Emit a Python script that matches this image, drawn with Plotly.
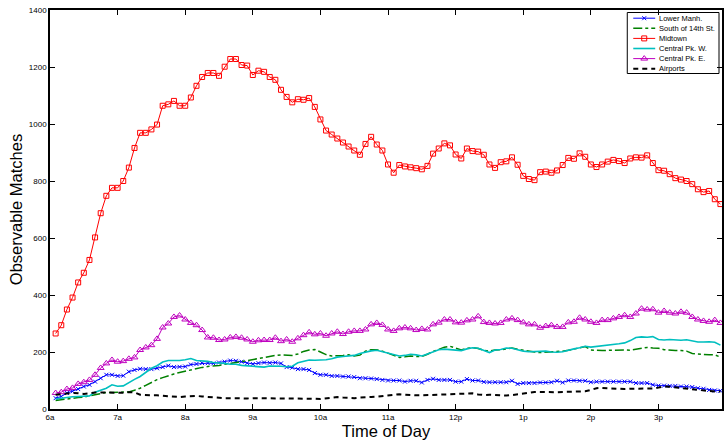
import plotly.graph_objects as go

# time stamps: minutes after midnight, 5-minute bins from 6:05
minutes = list(range(365, 960, 5))
hours = [m / 60 for m in minutes]

lower_manh = [38, 44, 56, 62, 70, 79, 85, 96, 108, 120, 120, 116, 117, 131, 137, 141, 140, 140, 143, 147,
              152, 147, 148, 149, 156, 158, 161, 161, 160, 163, 166, 170, 169, 166, 161, 158, 161, 163, 162, 163,
              160, 147, 145, 140, 140, 137, 126, 120, 120, 116, 116, 114, 114, 112, 108, 108, 107, 105, 102, 100,
              100, 100, 96, 99, 99, 93, 102, 106, 102, 102, 102, 96, 96, 105, 100, 100, 95, 94, 94, 94,
              94, 99, 88, 91, 91, 91, 93, 93, 94, 99, 93, 100, 100, 99, 99, 94, 96, 96, 96, 96,
              96, 96, 96, 91, 91, 91, 85, 82, 82, 81, 81, 79, 79, 77, 73, 71, 67, 65, 64]
south_14th = [30, 33, 35, 37, 40, 42, 46, 52, 55, 58, 58, 58, 58, 60, 66, 73, 83, 93, 103, 110,
              117, 123, 128, 133, 138, 143, 146, 149, 150, 153, 157, 159, 163, 166, 170, 174, 177, 180, 184, 188,
              190, 190, 188, 193, 202, 207, 209, 200, 191, 186, 186, 188, 190, 186, 189, 203, 208, 208, 203, 196,
              188, 181, 183, 186, 184, 184, 192, 202, 209, 217, 220, 214, 207, 213, 215, 212, 206, 203, 207, 208,
              211, 214, 210, 206, 202, 200, 198, 199, 201, 201, 203, 206, 211, 215, 219, 207, 205, 205, 206, 207,
              207, 207, 206, 209, 213, 216, 214, 213, 208, 206, 205, 205, 203, 195, 193, 191, 190, 190, 182]
midtown = [265, 294, 349, 391, 444, 478, 523, 602, 687, 748, 776, 776, 800, 847, 916, 969, 969, 981, 998, 1064,
           1069, 1081, 1064, 1064, 1093, 1134, 1165, 1179, 1179, 1169, 1201, 1228, 1228, 1207, 1205, 1172, 1187, 1183, 1165, 1155,
           1120, 1095, 1076, 1087, 1085, 1091, 1060, 1016, 977, 963, 949, 935, 921, 907, 892, 930, 955, 928, 907, 858,
           829, 856, 851, 848, 845, 841, 853, 896, 914, 932, 925, 893, 879, 914, 905, 903, 892, 858, 846, 866,
           869, 883, 857, 818, 807, 803, 831, 833, 829, 837, 856, 881, 878, 897, 885, 858, 849, 858, 868, 874,
           870, 863, 879, 883, 882, 890, 863, 838, 836, 824, 810, 805, 800, 789, 771, 761, 765, 736, 719]
central_w = [35, 38, 42, 43, 44, 44, 46, 59, 65, 73, 85, 80, 81, 94, 104, 114, 130, 143, 152, 165,
             170, 170, 170, 173, 177, 170, 169, 167, 163, 162, 160, 157, 157, 153, 151, 150, 148, 147, 151, 151,
             150, 148, 150, 162, 166, 172, 171, 171, 173, 176, 182, 184, 186, 188, 195, 200, 204, 206, 201, 195,
             190, 186, 188, 192, 190, 186, 193, 200, 208, 210, 209, 207, 205, 211, 215, 213, 206, 198, 207, 209,
             214, 213, 208, 203, 201, 201, 202, 203, 200, 199, 201, 207, 211, 215, 220, 217, 219, 222, 224, 227,
             229, 232, 240, 251, 253, 252, 254, 244, 242, 244, 243, 241, 243, 239, 235, 235, 236, 234, 224]
central_e = [56, 59, 70, 74, 88, 94, 102, 120, 144, 160, 172, 166, 168, 176, 181, 207, 216, 224, 246, 286,
             300, 323, 328, 314, 302, 294, 277, 251, 250, 242, 244, 251, 253, 250, 244, 236, 241, 242, 242, 250,
             238, 244, 236, 248, 259, 269, 262, 265, 257, 265, 271, 263, 271, 274, 274, 279, 297, 302, 295, 279,
             274, 283, 286, 283, 277, 281, 279, 297, 303, 314, 314, 304, 303, 311, 314, 325, 305, 302, 300, 302,
             314, 318, 312, 304, 297, 297, 285, 291, 294, 288, 288, 304, 306, 320, 314, 306, 302, 312, 312, 318,
             323, 329, 323, 335, 352, 349, 350, 338, 344, 338, 335, 341, 338, 323, 314, 309, 306, 312, 302]
airports = [50, 52, 55, 56, 55, 53, 55, 58, 58, 58, 58, 56, 57, 59, 58, 50, 48, 48, 48, 47,
            45, 43, 42, 44, 46, 46, 44, 42, 40, 38, 38, 38, 37, 36, 37, 38, 38, 38, 38, 38,
            38, 38, 38, 38, 38, 38, 36, 35, 38, 41, 42, 40, 38, 38, 40, 42, 42, 43, 45, 47,
            50, 52, 50, 48, 48, 48, 48, 49, 50, 51, 52, 53, 54, 56, 55, 51, 49, 50, 49, 47,
            47, 49, 52, 56, 59, 60, 60, 59, 58, 59, 60, 61, 61, 61, 62, 67, 73, 74, 73, 71,
            70, 70, 71, 71, 71, 70, 72, 75, 79, 78, 76, 73, 70, 68, 66, 65, 62, 61, 61]

series_names = ["Lower Manh.", "South of 14th St.", "Midtown", "Central Pk. W.", "Central Pk. E.", "Airports"]
tick_hours = [6, 7, 8, 9, 10, 11, 12, 13, 14, 15, 16]
tick_labels = ["6a", "7a", "8a", "9a", "10a", "11a", "12p", "1p", "2p", "3p", "4p"]
y_ticks = [0, 200, 400, 600, 800, 1000, 1200, 1400]

FONT = "Liberation Sans, Arial, Helvetica, sans-serif"

styles = [
    dict(mode="lines+markers", line=dict(color="#0000FF", width=1),
         marker=dict(symbol="x-thin-open", size=4, color="#0000FF", line=dict(color="#0000FF", width=1))),
    dict(mode="lines", line=dict(color="#008000", width=1.5, dash="dashdot")),
    dict(mode="lines+markers", line=dict(color="#FF0000", width=1),
         marker=dict(symbol="square-open", size=5, color="#FF0000", line=dict(color="#FF0000", width=1))),
    dict(mode="lines", line=dict(color="#00BFBF", width=1.6)),
    dict(mode="lines+markers", line=dict(color="#BF00BF", width=1),
         marker=dict(symbol="triangle-up-open", size=6, color="#BF00BF", line=dict(color="#BF00BF", width=1))),
    dict(mode="lines", line=dict(color="#000000", width=2, dash="5px,4px")),
]
values = [lower_manh, south_14th, midtown, central_w, central_e, airports]

fig = go.Figure()
for name, vals, st in zip(series_names, values, styles):
    fig.add_trace(go.Scatter(x=hours, y=vals, name=name, showlegend=False, **st))

# ---- compact MATLAB-style legend on an overlay axis measured in page pixels ----
leg_left, leg_right, leg_top, leg_bottom = 629, 721, 12.5, 73.5
row0, row_step = 18.2, 10.1
sample_x0, sample_x1, text_x = 635, 657, 659
fig.add_shape(type="rect", xref="x2", yref="y2", x0=leg_left, x1=leg_right, y0=leg_top, y1=leg_bottom,
              line=dict(color="black", width=1), fillcolor="white", layer="below")
for k, (name, st) in enumerate(zip(series_names, styles)):
    yk = row0 + k * row_step
    fig.add_trace(go.Scatter(x=[sample_x0, sample_x1], y=[yk, yk], mode="lines", line=st["line"],
                             xaxis="x2", yaxis="y2", showlegend=False, hoverinfo="skip"))
    if "marker" in st:
        fig.add_trace(go.Scatter(x=[(sample_x0 + sample_x1) / 2], y=[yk], mode="markers", marker=st["marker"],
                                 xaxis="x2", yaxis="y2", showlegend=False, hoverinfo="skip"))
    fig.add_annotation(x=text_x, y=yk, xref="x2", yref="y2", text=name, showarrow=False,
                       xanchor="left", yanchor="middle", font=dict(size=7.5, family=FONT, color="black"))

fig.update_layout(
    width=724, height=442,
    margin=dict(l=50, r=0, t=10, b=33),
    paper_bgcolor="white", plot_bgcolor="white",
    font=dict(family=FONT, size=8, color="black"),
    showlegend=False,
    xaxis=dict(range=[6, 15.94], tickmode="array", tickvals=tick_hours, ticktext=tick_labels,
               ticks="inside", ticklen=5, tickcolor="black", showgrid=False, zeroline=False,
               showline=True, linecolor="black", linewidth=1.5, mirror="ticks",
               tickfont=dict(size=8), title=dict(text="Time of Day", font=dict(size=16.5), standoff=2)),
    yaxis=dict(range=[0, 1400], tickmode="array", tickvals=y_ticks,
               ticks="inside", ticklen=5, tickcolor="black", showgrid=False, zeroline=False,
               showline=True, linecolor="black", linewidth=1.5, mirror="ticks",
               tickfont=dict(size=8), title=dict(text="Observable Matches", font=dict(size=16.5), standoff=2)),
    xaxis2=dict(overlaying="x", anchor="y2", range=[50, 724], visible=False, fixedrange=True),
    yaxis2=dict(overlaying="y", anchor="x2", range=[409, 10], visible=False, fixedrange=True),
)

fig.write_html("out.html", config={"displayModeBar": False},
               post_script="document.body.style.margin='0';")
